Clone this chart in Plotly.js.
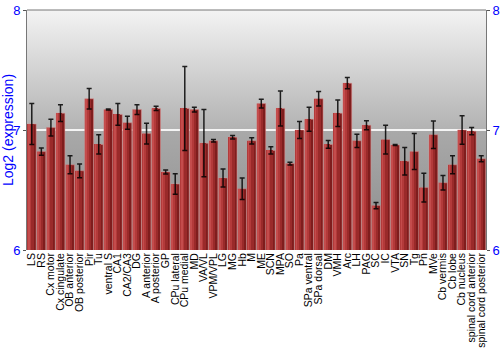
<!DOCTYPE html>
<html><head><meta charset="utf-8">
<script src="https://cdn.plot.ly/plotly-3.0.1.min.js"></script>
<style>html,body{margin:0;padding:0;background:#fff}#chart{width:500px;height:350px}</style>
</head><body><div id="chart"></div>
<script>
const regions = ["LS","RS","Cx motor","Cx cingulate","OB anterior","OB posterior","Pir","Tu","ventral S","CA1","CA2/CA3","DG","A anterior","A posterior","GP","CPu lateral","CPu medial","MD","VA/VL","VPM/VPL","LG","MG","Hb","M","ME","SCN","MPA","SO","Pa","SPa ventral","SPa dorsal","DM","VMH","Arc","LH","PAG","SC","IC","VTA","SN","Tg","Pn","MVe","Cb vermis","Cb lobe","Cb nucleus","spinal cord anterior","spinal cord posterior"];
const expression = [7.05,6.82,7.02,7.14,6.71,6.66,7.26,6.88,7.17,7.13,7.06,7.17,6.97,7.18,6.65,6.55,7.18,7.17,6.89,6.91,6.60,6.94,6.51,6.91,7.22,6.83,7.18,6.72,7.00,7.09,7.26,6.88,7.14,7.39,6.91,7.04,6.37,6.92,6.875,6.74,6.82,6.52,6.96,6.56,6.71,7.00,6.99,6.76];
const errors = [0.17,0.03,0.07,0.07,0.075,0.057,0.085,0.08,0.004,0.09,0.054,0.04,0.086,0.017,0.017,0.085,0.35,0.02,0.28,0.011,0.074,0.015,0.09,0.026,0.037,0.03,0.146,0.011,0.07,0.1,0.06,0.032,0.11,0.047,0.055,0.037,0.026,0.12,0.004,0.115,0.15,0.12,0.115,0.06,0.075,0.118,0.03,0.025];
const yTicks = [6,7,8];

const bw = 0.92;
const layers = [
  {w: bw, off: -bw/2, c: '#7f1d1d', line: 'rgba(230,150,150,0.5)'},
  {w: bw*0.72, off: -bw/2, c: '#9a2a2a', line: 'rgba(0,0,0,0)'},
  {w: bw*0.45, off: -bw/2, c: '#b33a3a', line: 'rgba(0,0,0,0)'},
  {w: bw*0.2, off: -bw/2+0.04, c: '#c44c4c', line: 'rgba(0,0,0,0)'}
];
const traces = layers.map((L, i) => ({
  type: 'bar', x: regions, y: expression, base: 0,
  width: L.w, offset: L.off,
  marker: {color: L.c, line: {color: L.line, width: i === 0 ? 1 : 0}},
  hoverinfo: 'skip', showlegend: false
}));
traces.push({
  type: 'scatter', mode: 'markers', x: regions, y: expression,
  marker: {size: 1, color: 'rgba(0,0,0,0)'},
  error_y: {type: 'data', array: errors, visible: true, color: 'rgba(0,0,0,0.85)', thickness: 1.5, width: 2.5},
  hoverinfo: 'skip', showlegend: false
});
traces.push({
  type: 'scatter', mode: 'none', x: regions, y: expression, yaxis: 'y2',
  hoverinfo: 'skip', showlegend: false
});

const grad = 'data:image/svg+xml;base64,' + btoa(
 '<svg xmlns="http://www.w3.org/2000/svg" width="10" height="100" preserveAspectRatio="none">' +
 '<defs><linearGradient id="g" x1="0" y1="0" x2="0" y2="1">' +
 '<stop offset="0" stop-color="#f3f3f3"/><stop offset="0.5" stop-color="#b2b2b2"/>' +
 '<stop offset="0.5" stop-color="#a9a9a9"/><stop offset="1" stop-color="#8c8c8c"/></linearGradient></defs>' +
 '<rect width="10" height="100" fill="url(#g)"/></svg>');

const axFont = {family: 'Liberation Sans, Arial, sans-serif', size: 13, color: '#0000ff'};
const layout = {
  width: 500, height: 350,
  margin: {l: 27, r: 14, t: 10, b: 100},
  paper_bgcolor: '#ffffff', plot_bgcolor: 'rgba(0,0,0,0)',
  barmode: 'overlay', bargap: 0,
  images: [{source: grad, xref: 'paper', yref: 'paper', x: 0, y: 1, sizex: 1, sizey: 1,
            sizing: 'stretch', xanchor: 'left', yanchor: 'top', layer: 'below'}],
  xaxis: {type: 'category', range: [-0.5, regions.length - 0.5], tickangle: -90,
          tickmode: 'array', tickvals: regions, ticktext: regions, automargin: false,
          showgrid: false, showline: false, ticks: '', zeroline: false,
          tickfont: {family: 'Liberation Sans, Arial, sans-serif', size: 10.5, color: '#000'}},
  yaxis: {range: [6, 8], tickvals: yTicks, ticks: 'outside', ticklen: 3, tickcolor: '#555',
          showline: true, linecolor: '#777', linewidth: 1, mirror: false,
          showgrid: true, gridcolor: '#f4f4f4', gridwidth: 2, zeroline: false,
          tickfont: axFont,
          title: {text: 'Log2 (expression)', font: {family: 'Liberation Sans, Arial, sans-serif', size: 14, color: '#0000ff'}, standoff: 4}},
  yaxis2: {range: [6, 8], tickvals: yTicks, overlaying: 'y', side: 'right', ticks: 'outside',
           ticklen: 3, tickcolor: '#555', showline: true, linecolor: '#777', showgrid: false,
           zeroline: false, tickfont: axFont},
  shapes: [{type: 'line', xref: 'paper', yref: 'paper', x0: 0, x1: 1, y0: 1, y1: 1,
            line: {color: '#777', width: 1}}]
};
Plotly.newPlot('chart', traces, layout, {displayModeBar: false, staticPlot: true});
</script></body></html>
